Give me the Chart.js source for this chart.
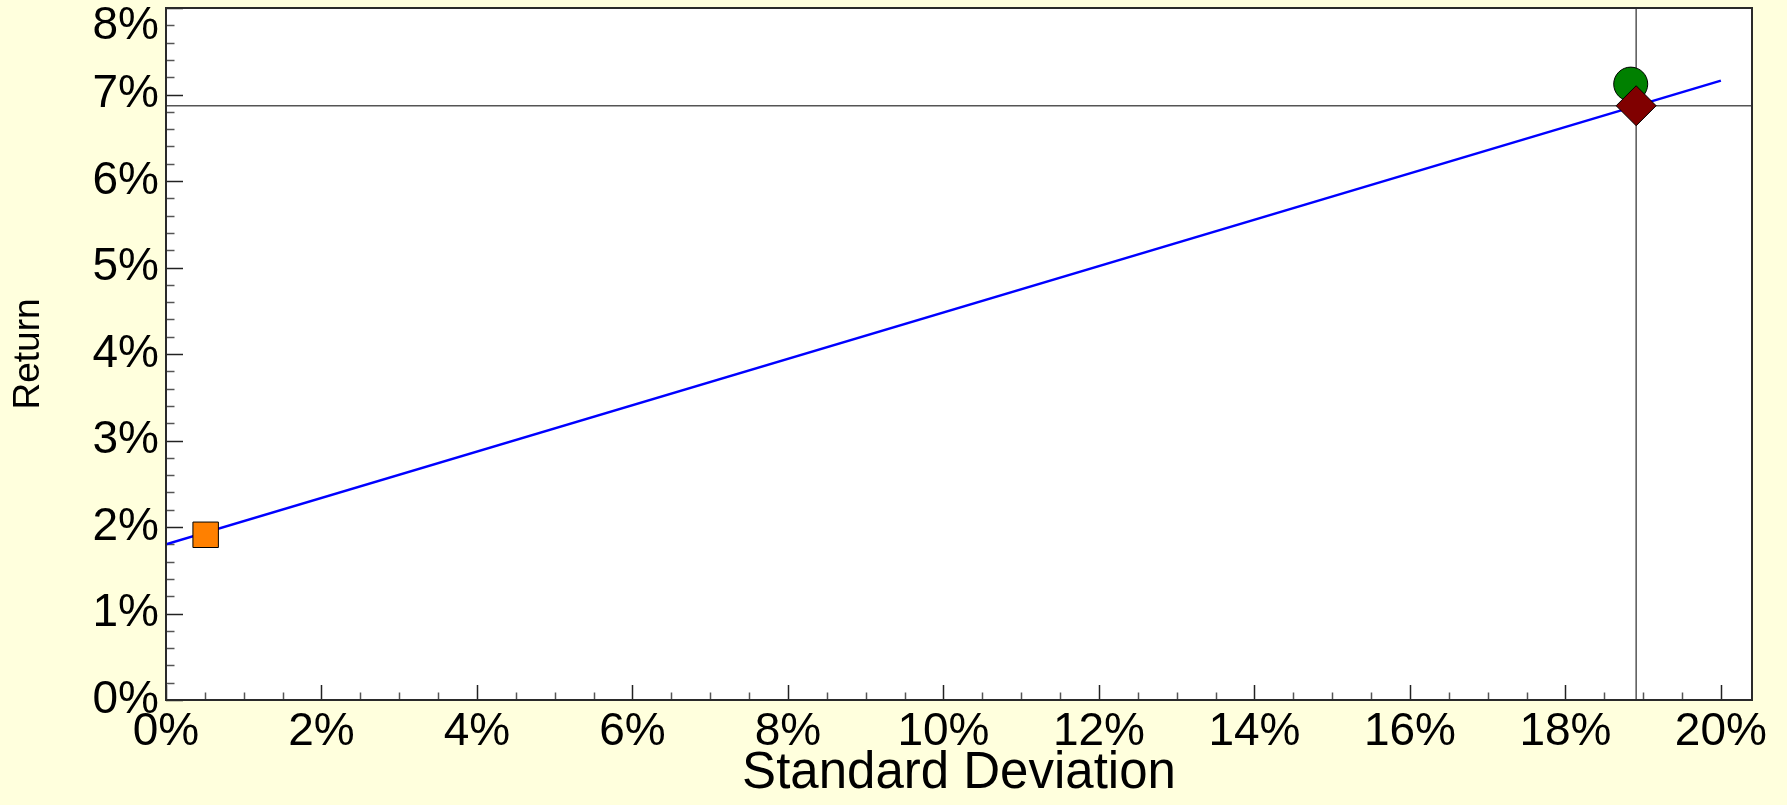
<!DOCTYPE html>
<html>
<head>
<meta charset="utf-8">
<script src="https://cdn.jsdelivr.net/npm/chart.js@4/dist/chart.umd.min.js"></script>
<style>
  html, body { margin: 0; padding: 0; background: #ffffdd; }
  #wrap { width: 1787px; height: 805px; }
</style>
</head>
<body>
<div id="wrap"><canvas id="risk-return"></canvas></div>
<script>
// axis ranges and tick labels (percent)
const x_range = [0, 20.4];
const y_range = [0, 8];
const std_dev_ticks = [0, 2, 4, 6, 8, 10, 12, 14, 16, 18, 20];
const return_ticks = [0, 1, 2, 3, 4, 5, 6, 7, 8];

// capital line end points: [std dev, return]
const line_std_dev = [0, 20];
const line_return = [1.8, 7.16];

// single points: [std dev, return]
const risk_free = [0.51, 1.91];
const market = [18.84, 7.12];
const portfolio = [18.91, 6.87];

const font_family = "'Liberation Sans', Arial, sans-serif";

const plot_frame = {
  id: "plot_frame",
  beforeDraw(chart) {
    const { ctx, chartArea: a } = chart;
    ctx.save();
    ctx.fillStyle = "#ffffdd";
    ctx.fillRect(0, 0, chart.width, chart.height);
    ctx.fillStyle = "#ffffff";
    ctx.fillRect(a.left, a.top, a.right - a.left, a.bottom - a.top);
    ctx.restore();
  },
  beforeDatasetsDraw(chart) {
    // inward tick marks, major + minor
    const { ctx, chartArea: a, scales } = chart;
    ctx.save();
    ctx.lineWidth = 1.5;
    for (let i = 0; i <= 40; i++) {
      const v = i * 0.5;
      const px = Math.round(scales.x.getPixelForValue(v)) + 0.5;
      const major = i % 4 === 0;
      ctx.strokeStyle = major ? "#222" : "#555";
      ctx.beginPath();
      ctx.moveTo(px, a.bottom);
      ctx.lineTo(px, a.bottom - (major ? 15 : 7.5));
      ctx.stroke();
    }
    for (let i = 0; i <= 40; i++) {
      const v = i * 0.2;
      const py = Math.round(scales.y.getPixelForValue(v)) + 0.5;
      const major = i % 5 === 0;
      ctx.strokeStyle = major ? "#222" : "#555";
      ctx.beginPath();
      ctx.moveTo(a.left, py);
      ctx.lineTo(a.left + (major ? 17 : 8.5), py);
      ctx.stroke();
    }
    ctx.restore();
  },
  afterDatasetsDraw(chart) {
    const { ctx, chartArea: a } = chart;
    ctx.save();
    ctx.strokeStyle = "#2a2a2a";
    ctx.lineWidth = 2;
    ctx.strokeRect(a.left, a.top, a.right - a.left, a.bottom - a.top);
    ctx.restore();
  },
};

document.addEventListener("DOMContentLoaded", function () {
  const risk_return = document.getElementById("risk-return");
  new Chart(risk_return, {
    type: "scatter",
    data: {
      datasets: [
        {
          label: "Portfolio",
          data: [{ x: portfolio[0], y: portfolio[1] }],
          pointStyle: "rectRot",
          pointRadius: 20,
          backgroundColor: "#800000",
          borderColor: "#000000",
          borderWidth: 1,
          order: 0,
        },
        {
          label: "Market",
          data: [{ x: market[0], y: market[1] }],
          pointStyle: "circle",
          pointRadius: 17,
          backgroundColor: "#008000",
          borderColor: "#000000",
          borderWidth: 1,
          order: 1,
        },
        {
          label: "Risk free",
          data: [{ x: risk_free[0], y: risk_free[1] }],
          pointStyle: "rect",
          pointRadius: 18,
          backgroundColor: "#ff8000",
          borderColor: "#000000",
          borderWidth: 1,
          order: 2,
        },
        {
          label: "Capital line",
          data: line_std_dev.map((x, i) => ({ x: x, y: line_return[i] })),
          showLine: true,
          pointRadius: 0,
          borderColor: "#0000ff",
          borderWidth: 2.5,
          fill: false,
          order: 3,
        },
        {
          label: "v",
          data: y_range.map((y) => ({ x: portfolio[0], y: y })),
          showLine: true,
          pointRadius: 0,
          borderColor: "#555555",
          borderWidth: 1.5,
          order: 4,
        },
        {
          label: "h",
          data: x_range.map((x) => ({ x: x, y: portfolio[1] })),
          showLine: true,
          pointRadius: 0,
          borderColor: "#555555",
          borderWidth: 1.5,
          order: 4,
        },
      ],
    },
    options: {
      responsive: true,
      maintainAspectRatio: false,
      animation: false,
      layout: { autoPadding: false, padding: { top: 8, right: 35, bottom: 0, left: 0 } },
      scales: {
        x: {
          type: "linear",
          min: x_range[0],
          max: x_range[1],
          grid: { display: false, drawTicks: false },
          border: { display: false },
          ticks: {
            autoSkip: false,
            maxRotation: 0,
            includeBounds: false,
            padding: 5,
            color: "#000",
            font: { family: font_family, size: 46 },
            callback: (v) => v + "%",
          },
          title: {
            display: true,
            text: "Standard Deviation",
            color: "#000",
            font: { family: font_family, size: 51 },
            padding: { top: 0, bottom: 0 },
          },
          afterBuildTicks: (scale) => {
            scale.ticks = std_dev_ticks.map((v) => ({ value: v }));
          },
          afterFit: (scale) => {
            scale.height = 105;
            scale.paddingLeft = 0;
            scale.paddingRight = 0;
          },
        },
        y: {
          type: "linear",
          min: y_range[0],
          max: y_range[1],
          grid: { display: false, drawTicks: false },
          border: { display: false },
          ticks: {
            autoSkip: false,
            padding: 7,
            color: "#000",
            font: { family: font_family, size: 46, lineHeight: 0.8 },
            // top label sits a bit lower so it is not cut off
            callback: (v) => (v === y_range[1] ? ["", v + "%"] : v + "%"),
          },
          title: {
            display: true,
            text: "Return",
            color: "#000",
            font: { family: font_family, size: 37 },
            padding: { top: 7, bottom: 0 },
          },
          afterBuildTicks: (scale) => {
            scale.ticks = return_ticks.map((v) => ({ value: v }));
          },
          afterFit: (scale) => {
            scale.width = 166;
            scale.paddingTop = 0;
            scale.paddingBottom = 0;
          },
        },
      },
      plugins: {
        legend: { display: false },
        tooltip: { enabled: false },
      },
    },
    plugins: [plot_frame],
  });
});
</script>
</body>
</html>
